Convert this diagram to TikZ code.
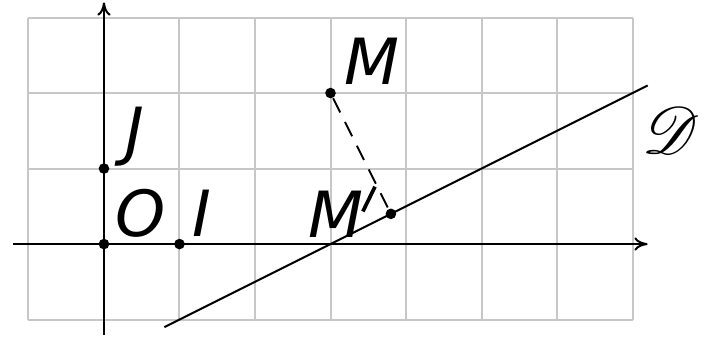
\documentclass[tikz,border=0pt]{standalone}
\usepackage{fontspec}
\setmainfont{DejaVu Sans}
\usepackage{mathrsfs}
\usetikzlibrary{arrows.meta}
\newcommand{\myprime}{\kern-0.8pt\raisebox{9.2pt}{\rotatebox[origin=c]{-26}{\rule{1.4pt}{10.4pt}}}}
\begin{document}
\begin{tikzpicture}[x=1cm,y=1cm,
  gridline/.style={draw=black!22, line width=0.75pt},
  axis/.style={line width=0.75pt, -{To[length=5pt,width=5pt]}},
  pt/.style={circle, fill=black, inner sep=0pt, minimum size=4pt},
  lbl/.style={font=\fontsize{24}{28}\selectfont\itshape, inner sep=0pt},
  dline/.style={line width=0.75pt},
  proj/.style={line width=0.75pt, dash pattern=on 6pt off 4pt}]
\useasboundingbox (-1.377,-1.245) rectangle (7.999,3.232);
\draw[gridline] (-1,-1) grid (7,3);
\coordinate (xs) at (-1.2,0);
\coordinate (xe) at (7.2,0);
\coordinate (ys) at (0,-1.2);
\coordinate (ye) at (0,3.2);
\draw[axis] (xs) -- (xe);
\draw[axis] (ys) -- (ye);
\coordinate (D1) at (0.8,-1.1);
\coordinate (D2) at (7.2,2.1);
\draw[dline] (D1) -- (D2);
\node[pt] (O) at (0,0) {};
\node[pt] (I) at (1,0) {};
\node[pt] (J) at (0,1) {};
\node[pt] (M) at (3,2) {};
\node[pt] (Mp) at (3.8,0.4) {};
\draw[proj] (M) -- (Mp);
\node[lbl] (lO) at (0.48,0.41) {O};
\node[lbl] (lI) at (1.3,0.41) {I};
\node[lbl] (lJ) at (0.41,1.42) {J};
\node[lbl] (lM) at (3.55,2.42) {M};
\node[lbl, anchor=base west] (lMp) at (2.70,0.09) {M\myprime};
\node[inner sep=0pt] (lD) at (7.51,1.51) {\fontsize{25}{30}\selectfont$\mathscr{D}$};
\end{tikzpicture}
\end{document}
